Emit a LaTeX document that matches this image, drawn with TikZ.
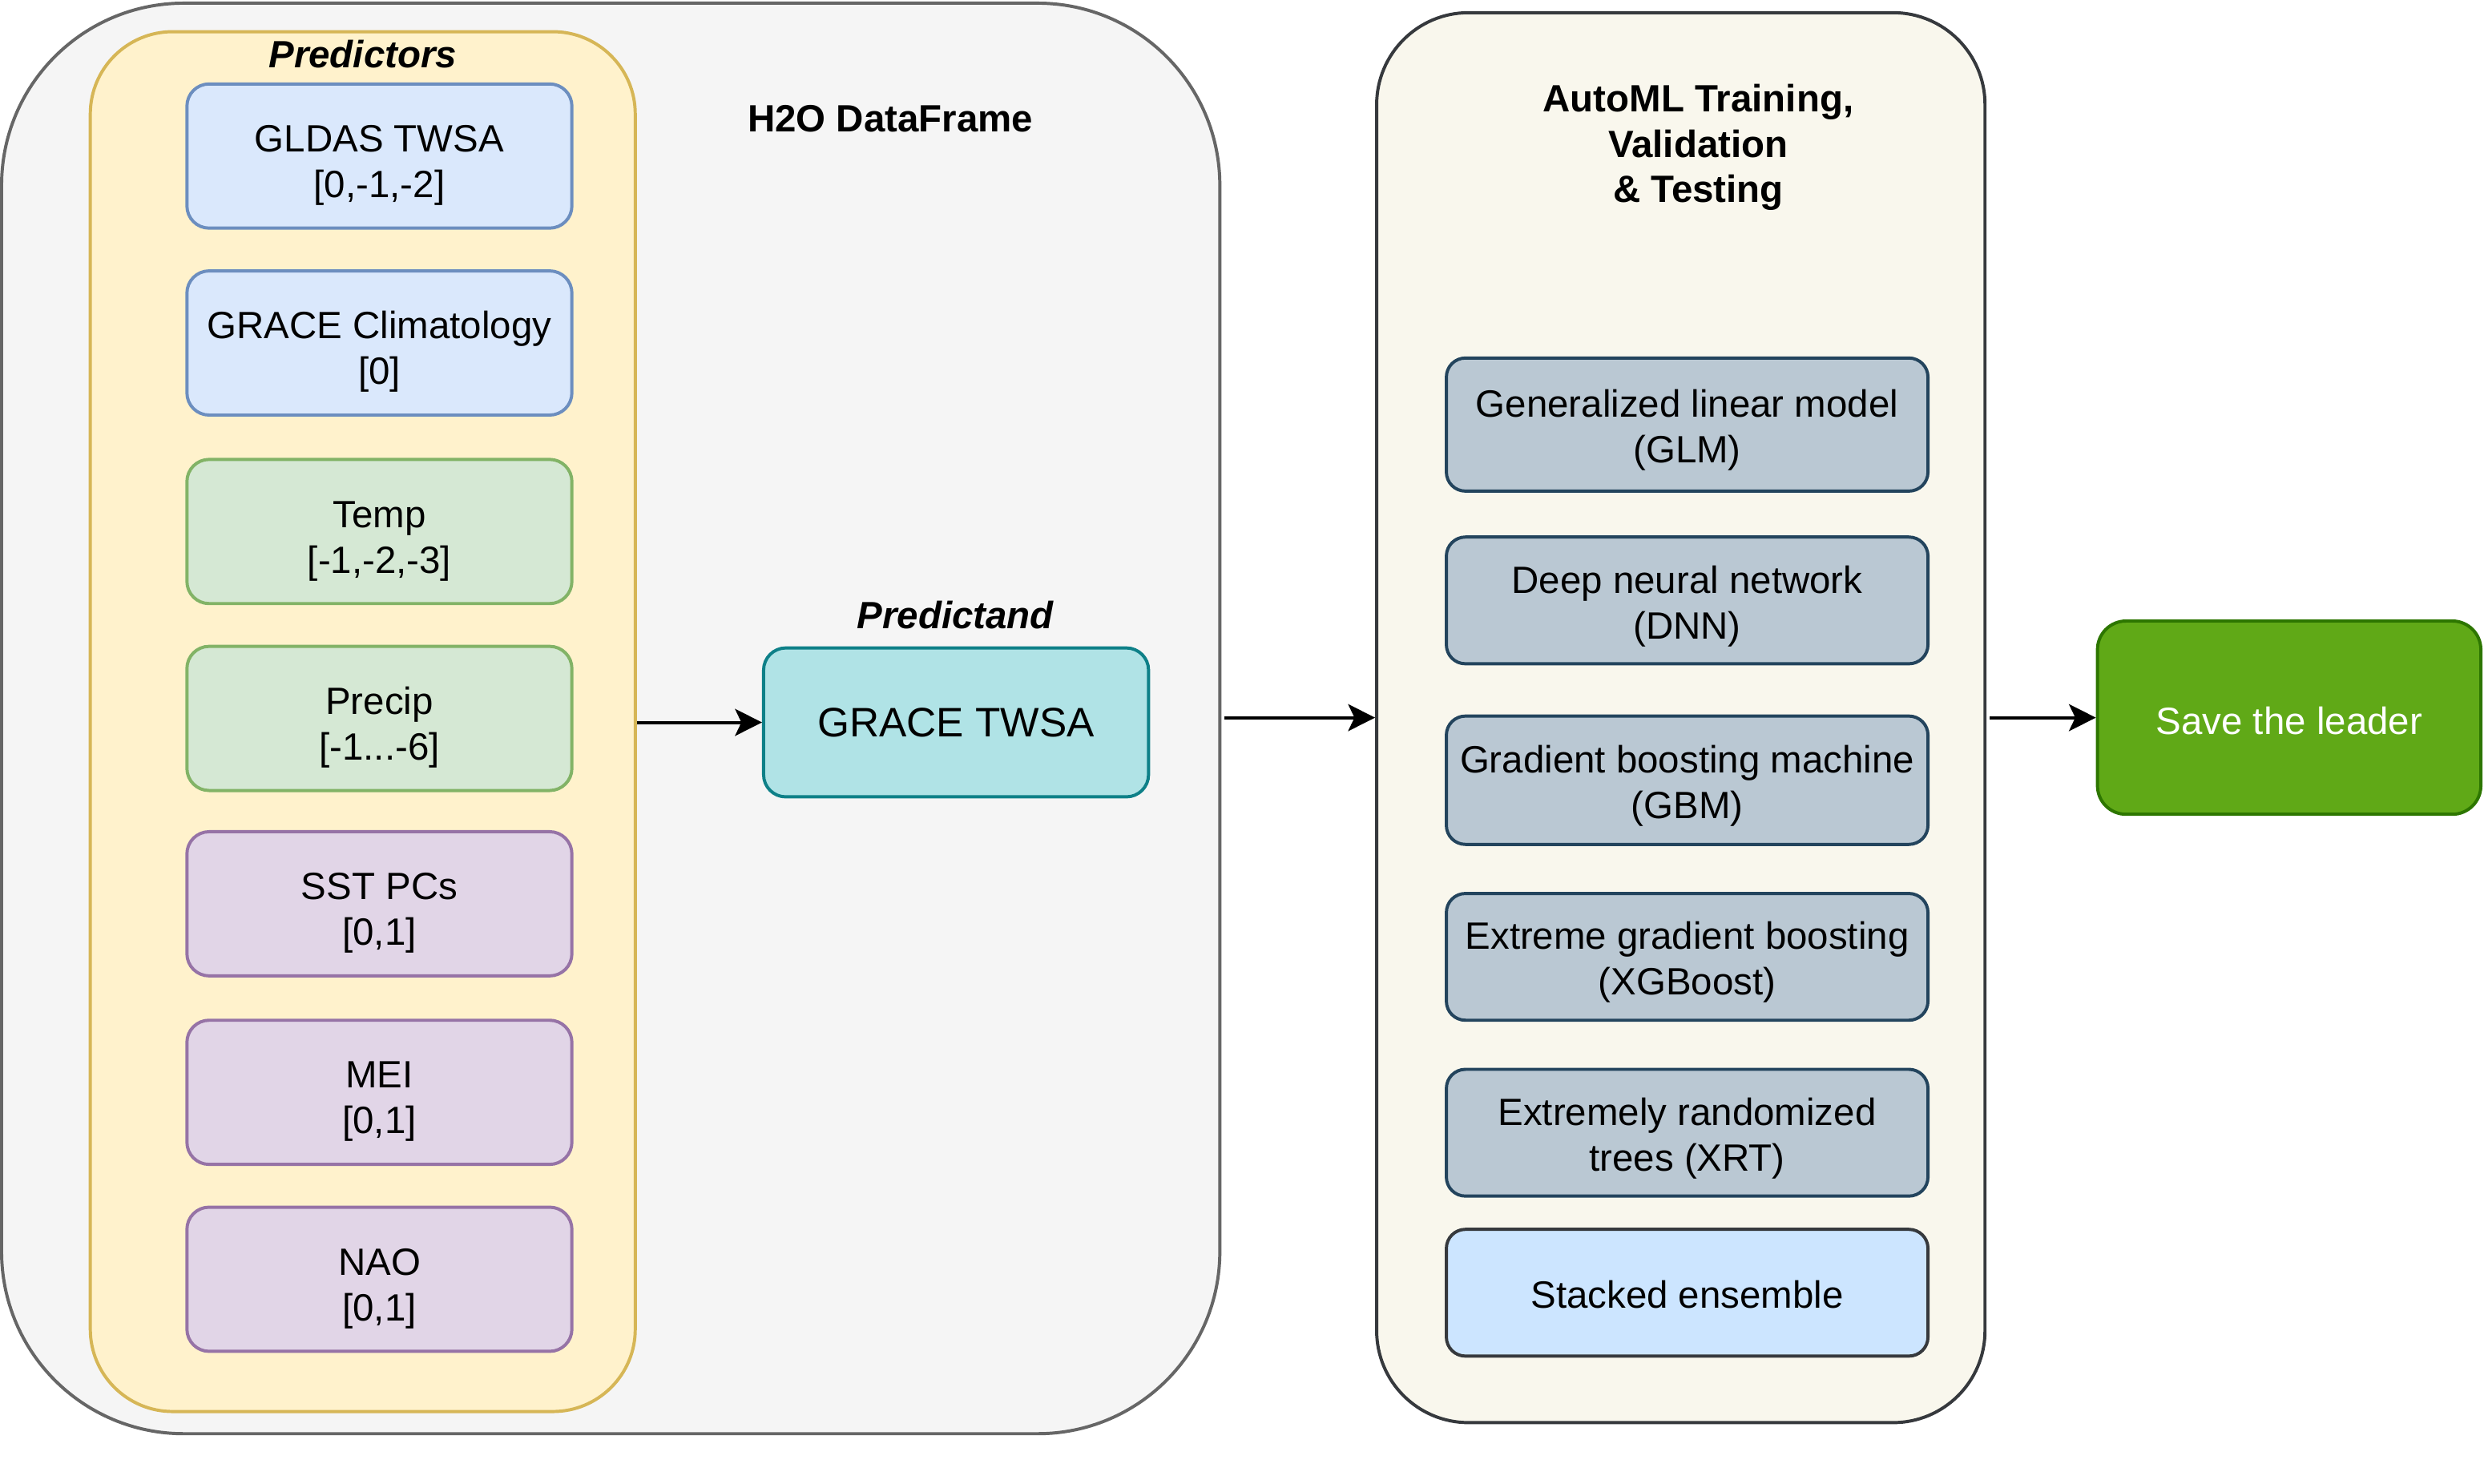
\documentclass[tikz,border=0pt]{standalone}
\usepackage{fontspec}
\setmainfont{Liberation Sans}
\usetikzlibrary{arrows.meta}
\newcommand\fsz{\fontsize{24}{28.8}\selectfont}
% two-line text, lowered by #1 without changing its reported size
\newcommand\twolines[3][-6pt]{\raisebox{#1}[\height][\depth]{\begin{tabular}{@{}c@{}}#2\\{#3}\end{tabular}}}
\newcommand\oneline[2][0pt]{\raisebox{#1}[\height][\depth]{#2}}
\definecolor{outerF}{HTML}{F5F5F5}\definecolor{outerD}{HTML}{666666}
\definecolor{yelF}{HTML}{FFF2CC}\definecolor{yelD}{HTML}{D6B656}
\definecolor{bluF}{HTML}{DAE8FC}\definecolor{bluD}{HTML}{6C8EBF}
\definecolor{grnF}{HTML}{D5E8D4}\definecolor{grnD}{HTML}{82B366}
\definecolor{purF}{HTML}{E1D5E7}\definecolor{purD}{HTML}{9673A6}
\definecolor{tealF}{HTML}{B0E3E6}\definecolor{tealD}{HTML}{0E8088}
\definecolor{autoF}{HTML}{F9F7ED}\definecolor{autoD}{HTML}{36393D}
\definecolor{modF}{HTML}{BAC8D3}\definecolor{modD}{HTML}{23445D}
\definecolor{stkF}{HTML}{CCE5FF}
\definecolor{savF}{HTML}{60A917}\definecolor{savD}{HTML}{2D7600}
\tikzset{
  base/.style={draw, line width=2pt, align=center, inner sep=0pt, font=\fsz},
  predbox/.style={base, rounded corners=14pt, minimum width=243pt, minimum height=91pt},
  modbox/.style={base, rounded corners=12pt, minimum width=304pt, minimum height=80pt, fill=modF, draw=modD},
  title/.style={align=center, inner sep=0pt, font=\fsz\bfseries},
  conn/.style={line width=2pt, -{Stealth[length=17pt,width=17pt,inset=4pt]}},
}
\begin{document}
\begin{tikzpicture}[x=1pt,y=-1pt]
\useasboundingbox (0,0) rectangle (1568,936.7);
% containers
\node[base, rounded corners=115pt, minimum width=769pt, minimum height=903pt, fill=outerF, draw=outerD] (outer) at (385.5,453.5) {};
\node[base, rounded corners=52pt, minimum width=344pt, minimum height=871pt, fill=yelF, draw=yelD] (pred) at (229,455.5) {};
\node[base, rounded corners=58pt, minimum width=384pt, minimum height=890pt, fill=autoF, draw=autoD] (auto) at (1061,453) {};
% titles
\node[title] (tpred) at (229,34) {\itshape Predictors};
\node[title] (th2o) at (562,75) {H2O DataFrame};
\node[title] (tpnd) at (603,388) {\itshape Predictand};
\node[title] (tauto) at (1072,93) {AutoML Training,\\Validation\\\& Testing};
% predictor boxes
\node[predbox, fill=bluF, draw=bluD] (gldas) at (239.5,98.5) {\twolines{GLDAS TWSA}{[0,-1,-2]}};
\node[predbox, fill=bluF, draw=bluD] (clim) at (239.5,216.5) {\twolines{GRACE Climatology}{[0]}};
\node[predbox, fill=grnF, draw=grnD] (temp) at (239.5,335.5) {\twolines{Temp}{[-1,-2,-3]}};
\node[predbox, fill=grnF, draw=grnD] (precip) at (239.5,453.5) {\twolines{Precip}{[-1...-6]}};
\node[predbox, fill=purF, draw=purD] (sst) at (239.5,570.5) {\twolines{SST PCs}{[0,1]}};
\node[predbox, fill=purF, draw=purD] (mei) at (239.5,689.5) {\twolines{MEI}{[0,1]}};
\node[predbox, fill=purF, draw=purD] (nao) at (239.5,807.5) {\twolines{NAO}{[0,1]}};
% predictand
\node[predbox, minimum height=94pt, fill=tealF, draw=tealD, font=\fontsize{26}{31}\selectfont] (grace) at (603.5,456) {GRACE TWSA};
% models
\node[modbox, minimum height=84pt] (glm) at (1065,268) {\twolines[-4pt]{Generalized linear model}{(GLM)}};
\node[modbox] (dnn) at (1065,379) {\twolines[-4pt]{Deep neural network}{(DNN)}};
\node[modbox, minimum height=81pt] (gbm) at (1065,492.5) {\twolines[-4pt]{Gradient boosting machine}{(GBM)}};
\node[modbox] (xgb) at (1065,604) {\twolines[-4pt]{Extreme gradient boosting}{(XGBoost)}};
\node[modbox] (xrt) at (1065,715) {\twolines[-4pt]{Extremely randomized}{trees (XRT)}};
\node[modbox, fill=stkF, draw=autoD] (stk) at (1065,816) {\oneline[-1pt]{Stacked ensemble}};
% leader
\node[base, rounded corners=18pt, minimum width=242pt, minimum height=122pt, fill=savF, draw=savD, text=white] (save) at (1445,453) {\oneline[-2pt]{Save the leader}};
% connectors
\draw[conn] (pred.east |- grace.west) -- (grace.west);
\draw[conn] ([xshift=2pt]outer.east |- auto.west) -- (auto.west);
\draw[conn] ([xshift=2pt]auto.east) -- (save.west);
\end{tikzpicture}
\end{document}
